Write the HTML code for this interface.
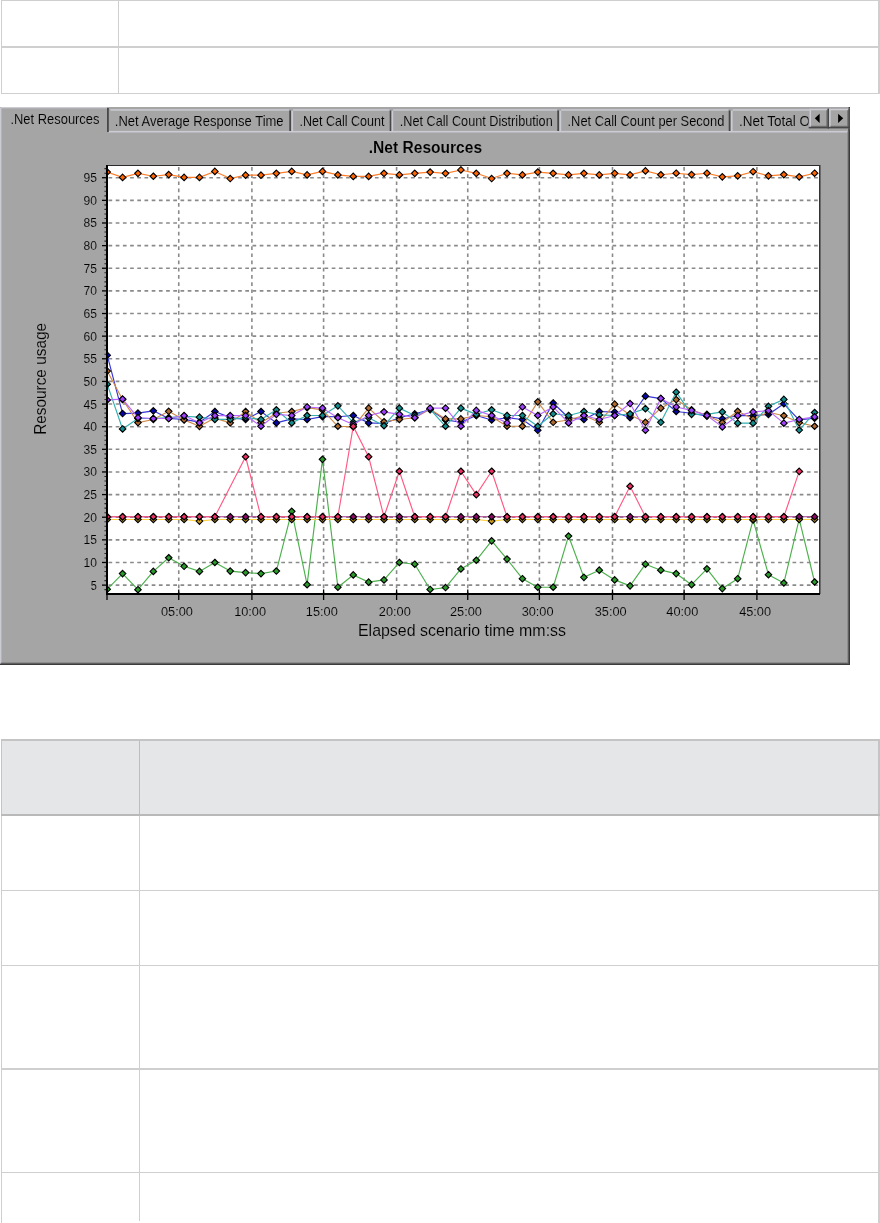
<!DOCTYPE html>
<html><head><meta charset="utf-8"><title>.Net Resources</title>
<style>
html,body{margin:0;padding:0;background:#fff;width:880px;height:1223px;overflow:hidden;position:relative;font-family:"Liberation Sans",Arial,sans-serif}
.b{position:absolute;background:#cfcfcf}
#chart{position:absolute;left:0;top:107px;will-change:transform}
#chart text{font-family:"Liberation Sans",Arial,sans-serif;fill:#000;stroke:#a5a5a5;stroke-width:0.15px}
.g{stroke:#8a8a8a;stroke-width:1.6;stroke-dasharray:3.7 3.5}
.tk{stroke:#000;stroke-width:1.1}
</style></head><body>
<div class="b" style="left:1px;top:0;width:878px;height:1px"></div>
<div class="b" style="left:1px;top:46px;width:878px;height:2px"></div>
<div class="b" style="left:1px;top:93px;width:878px;height:1px"></div>
<div class="b" style="left:1px;top:0;width:1px;height:94px"></div>
<div class="b" style="left:118px;top:0;width:1px;height:94px"></div>
<div class="b" style="left:878px;top:0;width:2px;height:94px"></div>

<svg id="chart" width="850" height="558" viewBox="0 107 850 558">
<clipPath id="t6"><rect x="731" y="108" width="77.5" height="24"/></clipPath>
<rect x="0" y="107" width="850" height="558" fill="#a5a5a5"/>
<rect x="0" y="107.5" width="1.4" height="557" fill="#cbcbd4"/>
<rect x="108.5" y="130.9" width="740" height="1.6" fill="#cbcbd4"/>
<rect x="1" y="662.6" width="848" height="1.2" fill="#6b6b6b"/>
<rect x="0" y="663.6" width="850" height="1.4" fill="#3c3c3c"/>
<rect x="847.6" y="131" width="1.2" height="533" fill="#6b6b6b"/>
<rect x="848.6" y="107" width="1.4" height="558" fill="#3c3c3c"/>
<rect x="1" y="107" width="106" height="1.3" fill="#cbcbd4"/>
<rect x="107" y="108" width="1.8" height="24" fill="#474747"/>
<text x="10.45" y="123.8" font-size="14.8" textLength="89.05" lengthAdjust="spacingAndGlyphs">.Net Resources</text>
<rect x="110.4" y="109.2" width="178.7" height="1.5" fill="#cbcbd4"/>
<rect x="289.3" y="110.5" width="1.7" height="20.5" fill="#474747"/>
<g><text x="114.8" y="126.3" font-size="14.8" textLength="168.8" lengthAdjust="spacingAndGlyphs">.Net Average Response Time</text></g>
<rect x="293.1" y="109.2" width="96.4" height="1.5" fill="#cbcbd4"/>
<rect x="291.5" y="110.7" width="1.6" height="20.5" fill="#cbcbd4"/>
<rect x="389.7" y="110.5" width="1.7" height="20.5" fill="#474747"/>
<g><text x="299.4" y="126.3" font-size="14.8" textLength="85.1" lengthAdjust="spacingAndGlyphs">.Net Call Count</text></g>
<rect x="393.2" y="109.2" width="163.9" height="1.5" fill="#cbcbd4"/>
<rect x="391.6" y="110.7" width="1.6" height="20.5" fill="#cbcbd4"/>
<rect x="557.3" y="110.5" width="1.7" height="20.5" fill="#474747"/>
<g><text x="399.8" y="126.3" font-size="14.8" textLength="152.89" lengthAdjust="spacingAndGlyphs">.Net Call Count Distribution</text></g>
<rect x="561.2" y="109.2" width="167.3" height="1.5" fill="#cbcbd4"/>
<rect x="559.6" y="110.7" width="1.6" height="20.5" fill="#cbcbd4"/>
<rect x="728.7" y="110.5" width="1.7" height="20.5" fill="#474747"/>
<g><text x="567.5" y="126.3" font-size="14.8" textLength="156.81" lengthAdjust="spacingAndGlyphs">.Net Call Count per Second</text></g>
<rect x="732.6" y="109.2" width="115.5" height="1.5" fill="#cbcbd4"/>
<rect x="731" y="110.7" width="1.6" height="20.5" fill="#cbcbd4"/>
<rect x="848.3" y="110.5" width="1.7" height="20.5" fill="#474747"/>
<g clip-path="url(#t6)"><text x="739" y="126.3" font-size="14.8" textLength="163.12" lengthAdjust="spacingAndGlyphs">.Net Total Operational Time</text></g>
<rect x="809.5" y="108.6" width="19.5" height="19.8" fill="#a5a5a5"/>
<rect x="809.5" y="108.8" width="18.5" height="1.5" fill="#cbcbd4"/><rect x="809.5" y="108.8" width="1.5" height="18.5" fill="#cbcbd4"/>
<rect x="810.8" y="125.8" width="16.9" height="1" fill="#6b6b6b"/><rect x="826.4" y="110.2" width="1" height="16.6" fill="#6b6b6b"/>
<rect x="808.7" y="126.8" width="20.3" height="1.6" fill="#474747"/><rect x="827.4" y="108.6" width="1.6" height="19.8" fill="#474747"/>
<polygon points="814.8,118.3 819.6,113.7 819.6,122.9" fill="#000"/>
<rect x="829.2" y="108.6" width="20.7" height="19.8" fill="#a5a5a5"/>
<rect x="829.2" y="108.8" width="19.7" height="1.5" fill="#cbcbd4"/><rect x="829.2" y="108.8" width="1.5" height="18.5" fill="#cbcbd4"/>
<rect x="830.5" y="125.8" width="18.1" height="1" fill="#6b6b6b"/><rect x="847.3" y="110.2" width="1" height="16.6" fill="#6b6b6b"/>
<rect x="828.4" y="126.8" width="21.5" height="1.6" fill="#474747"/><rect x="848.3" y="108.6" width="1.6" height="19.8" fill="#474747"/>
<polygon points="843.2,118.3 838.1,113.7 838.1,122.9" fill="#000"/>
<text x="368.75" y="152.7" font-size="16.9" font-weight="bold" textLength="113.35" lengthAdjust="spacingAndGlyphs">.Net Resources</text>
<rect x="107" y="166" width="713" height="427" fill="#fff"/>
<line x1="108.5" y1="585.12" x2="819" y2="585.12" class="g"/>
<line x1="108.5" y1="562.48" x2="819" y2="562.48" class="g"/>
<line x1="108.5" y1="539.85" x2="819" y2="539.85" class="g"/>
<line x1="108.5" y1="517.22" x2="819" y2="517.22" class="g"/>
<line x1="108.5" y1="494.58" x2="819" y2="494.58" class="g"/>
<line x1="108.5" y1="471.95" x2="819" y2="471.95" class="g"/>
<line x1="108.5" y1="449.32" x2="819" y2="449.32" class="g"/>
<line x1="108.5" y1="426.69" x2="819" y2="426.69" class="g"/>
<line x1="108.5" y1="404.05" x2="819" y2="404.05" class="g"/>
<line x1="108.5" y1="381.42" x2="819" y2="381.42" class="g"/>
<line x1="108.5" y1="358.79" x2="819" y2="358.79" class="g"/>
<line x1="108.5" y1="336.15" x2="819" y2="336.15" class="g"/>
<line x1="108.5" y1="313.52" x2="819" y2="313.52" class="g"/>
<line x1="108.5" y1="290.89" x2="819" y2="290.89" class="g"/>
<line x1="108.5" y1="268.25" x2="819" y2="268.25" class="g"/>
<line x1="108.5" y1="245.62" x2="819" y2="245.62" class="g"/>
<line x1="108.5" y1="222.99" x2="819" y2="222.99" class="g"/>
<line x1="108.5" y1="200.36" x2="819" y2="200.36" class="g"/>
<line x1="108.5" y1="177.72" x2="819" y2="177.72" class="g"/>
<line x1="178.75" y1="167" x2="178.75" y2="593" class="g"/>
<line x1="251.9" y1="167" x2="251.9" y2="593" class="g"/>
<line x1="323.6" y1="167" x2="323.6" y2="593" class="g"/>
<line x1="396.6" y1="167" x2="396.6" y2="593" class="g"/>
<line x1="467.75" y1="167" x2="467.75" y2="593" class="g"/>
<line x1="539.4" y1="167" x2="539.4" y2="593" class="g"/>
<line x1="612.5" y1="167" x2="612.5" y2="593" class="g"/>
<line x1="684.1" y1="167" x2="684.1" y2="593" class="g"/>
<line x1="756.9" y1="167" x2="756.9" y2="593" class="g"/>
<clipPath id="pc"><rect x="108" y="166" width="711.5" height="427"/></clipPath><g id="series" clip-path="url(#pc)"><polyline points="107.2,589.33 122.58,573.62 137.96,589.69 153.33,571.4 168.71,557.78 184.09,566.29 199.47,571.4 214.85,562.53 230.22,571.08 245.6,572.62 260.98,573.57 276.36,571.04 291.74,511.33 307.11,584.66 322.49,459.32 337.87,587.2 353.25,574.93 368.63,582.13 384,579.91 399.38,562.48 414.76,564.2 430.14,589.46 445.52,587.56 460.89,568.96 476.27,560.27 491.65,540.85 507.03,559.09 522.41,578.69 537.78,587.24 553.16,587.24 568.54,536.05 583.92,577.33 599.3,570.18 614.67,579.91 630.05,585.84 645.43,564.2 660.81,570.18 676.19,573.57 691.56,584.66 706.94,568.82 722.32,588.6 737.7,578.69 753.08,519.93 768.45,574.71 783.83,583.03 799.21,519.03 814.59,581.99" fill="none" stroke="#4cb04c" stroke-width="1.15" stroke-linejoin="round"/>
<path d="M107.2 586.08l3.25 3.25-3.25 3.25-3.25-3.25zM122.58 570.37l3.25 3.25-3.25 3.25-3.25-3.25zM137.96 586.44l3.25 3.25-3.25 3.25-3.25-3.25zM153.33 568.15l3.25 3.25-3.25 3.25-3.25-3.25zM168.71 554.53l3.25 3.25-3.25 3.25-3.25-3.25zM184.09 563.04l3.25 3.25-3.25 3.25-3.25-3.25zM199.47 568.15l3.25 3.25-3.25 3.25-3.25-3.25zM214.85 559.28l3.25 3.25-3.25 3.25-3.25-3.25zM230.22 567.83l3.25 3.25-3.25 3.25-3.25-3.25zM245.6 569.37l3.25 3.25-3.25 3.25-3.25-3.25zM260.98 570.32l3.25 3.25-3.25 3.25-3.25-3.25zM276.36 567.79l3.25 3.25-3.25 3.25-3.25-3.25zM291.74 508.08l3.25 3.25-3.25 3.25-3.25-3.25zM307.11 581.41l3.25 3.25-3.25 3.25-3.25-3.25zM322.49 456.07l3.25 3.25-3.25 3.25-3.25-3.25zM337.87 583.95l3.25 3.25-3.25 3.25-3.25-3.25zM353.25 571.68l3.25 3.25-3.25 3.25-3.25-3.25zM368.63 578.88l3.25 3.25-3.25 3.25-3.25-3.25zM384 576.66l3.25 3.25-3.25 3.25-3.25-3.25zM399.38 559.23l3.25 3.25-3.25 3.25-3.25-3.25zM414.76 560.95l3.25 3.25-3.25 3.25-3.25-3.25zM430.14 586.21l3.25 3.25-3.25 3.25-3.25-3.25zM445.52 584.31l3.25 3.25-3.25 3.25-3.25-3.25zM460.89 565.71l3.25 3.25-3.25 3.25-3.25-3.25zM476.27 557.02l3.25 3.25-3.25 3.25-3.25-3.25zM491.65 537.6l3.25 3.25-3.25 3.25-3.25-3.25zM507.03 555.84l3.25 3.25-3.25 3.25-3.25-3.25zM522.41 575.44l3.25 3.25-3.25 3.25-3.25-3.25zM537.78 583.99l3.25 3.25-3.25 3.25-3.25-3.25zM553.16 583.99l3.25 3.25-3.25 3.25-3.25-3.25zM568.54 532.8l3.25 3.25-3.25 3.25-3.25-3.25zM583.92 574.08l3.25 3.25-3.25 3.25-3.25-3.25zM599.3 566.93l3.25 3.25-3.25 3.25-3.25-3.25zM614.67 576.66l3.25 3.25-3.25 3.25-3.25-3.25zM630.05 582.59l3.25 3.25-3.25 3.25-3.25-3.25zM645.43 560.95l3.25 3.25-3.25 3.25-3.25-3.25zM660.81 566.93l3.25 3.25-3.25 3.25-3.25-3.25zM676.19 570.32l3.25 3.25-3.25 3.25-3.25-3.25zM691.56 581.41l3.25 3.25-3.25 3.25-3.25-3.25zM706.94 565.57l3.25 3.25-3.25 3.25-3.25-3.25zM722.32 585.35l3.25 3.25-3.25 3.25-3.25-3.25zM737.7 575.44l3.25 3.25-3.25 3.25-3.25-3.25zM753.08 516.68l3.25 3.25-3.25 3.25-3.25-3.25zM768.45 571.46l3.25 3.25-3.25 3.25-3.25-3.25zM783.83 579.78l3.25 3.25-3.25 3.25-3.25-3.25zM799.21 515.78l3.25 3.25-3.25 3.25-3.25-3.25zM814.59 578.74l3.25 3.25-3.25 3.25-3.25-3.25z" fill="#2a9a2a" stroke="#000" stroke-width="1.15"/>
<polyline points="107.2,355.17 122.58,413.56 137.96,413.11 153.33,410.84 168.71,418.54 184.09,419.44 199.47,422.16 214.85,411.52 230.22,417.63 245.6,419.44 260.98,411.52 276.36,422.88 291.74,418.9 307.11,419.49 322.49,416.64 337.87,416.73 353.25,415.51 368.63,422.88 384,423.52 399.38,417.77 414.76,413.79 430.14,409.8 445.52,419.9 460.89,422.3 476.27,415.51 491.65,420.03 507.03,417.77 522.41,419.49 537.78,430.31 553.16,402.97 568.54,417.77 583.92,419.49 599.3,411.52 614.67,412.07 630.05,417.77 645.43,396.18 660.81,398.62 676.19,411.52 691.56,413.24 706.94,416.27 722.32,418.81 737.7,415.69 753.08,415.69 768.45,414.42 783.83,403.78 799.21,420.03 814.59,418.18" fill="none" stroke="#3434d8" stroke-width="1.15" stroke-linejoin="round"/>
<path d="M107.2 351.92l3.25 3.25-3.25 3.25-3.25-3.25zM122.58 410.31l3.25 3.25-3.25 3.25-3.25-3.25zM137.96 409.86l3.25 3.25-3.25 3.25-3.25-3.25zM153.33 407.59l3.25 3.25-3.25 3.25-3.25-3.25zM168.71 415.29l3.25 3.25-3.25 3.25-3.25-3.25zM184.09 416.19l3.25 3.25-3.25 3.25-3.25-3.25zM199.47 418.91l3.25 3.25-3.25 3.25-3.25-3.25zM214.85 408.27l3.25 3.25-3.25 3.25-3.25-3.25zM230.22 414.38l3.25 3.25-3.25 3.25-3.25-3.25zM245.6 416.19l3.25 3.25-3.25 3.25-3.25-3.25zM260.98 408.27l3.25 3.25-3.25 3.25-3.25-3.25zM276.36 419.63l3.25 3.25-3.25 3.25-3.25-3.25zM291.74 415.65l3.25 3.25-3.25 3.25-3.25-3.25zM307.11 416.24l3.25 3.25-3.25 3.25-3.25-3.25zM322.49 413.39l3.25 3.25-3.25 3.25-3.25-3.25zM337.87 413.48l3.25 3.25-3.25 3.25-3.25-3.25zM353.25 412.26l3.25 3.25-3.25 3.25-3.25-3.25zM368.63 419.63l3.25 3.25-3.25 3.25-3.25-3.25zM384 420.27l3.25 3.25-3.25 3.25-3.25-3.25zM399.38 414.52l3.25 3.25-3.25 3.25-3.25-3.25zM414.76 410.54l3.25 3.25-3.25 3.25-3.25-3.25zM430.14 406.55l3.25 3.25-3.25 3.25-3.25-3.25zM445.52 416.65l3.25 3.25-3.25 3.25-3.25-3.25zM460.89 419.05l3.25 3.25-3.25 3.25-3.25-3.25zM476.27 412.26l3.25 3.25-3.25 3.25-3.25-3.25zM491.65 416.78l3.25 3.25-3.25 3.25-3.25-3.25zM507.03 414.52l3.25 3.25-3.25 3.25-3.25-3.25zM522.41 416.24l3.25 3.25-3.25 3.25-3.25-3.25zM537.78 427.06l3.25 3.25-3.25 3.25-3.25-3.25zM553.16 399.72l3.25 3.25-3.25 3.25-3.25-3.25zM568.54 414.52l3.25 3.25-3.25 3.25-3.25-3.25zM583.92 416.24l3.25 3.25-3.25 3.25-3.25-3.25zM599.3 408.27l3.25 3.25-3.25 3.25-3.25-3.25zM614.67 408.82l3.25 3.25-3.25 3.25-3.25-3.25zM630.05 414.52l3.25 3.25-3.25 3.25-3.25-3.25zM645.43 392.93l3.25 3.25-3.25 3.25-3.25-3.25zM660.81 395.37l3.25 3.25-3.25 3.25-3.25-3.25zM676.19 408.27l3.25 3.25-3.25 3.25-3.25-3.25zM691.56 409.99l3.25 3.25-3.25 3.25-3.25-3.25zM706.94 413.02l3.25 3.25-3.25 3.25-3.25-3.25zM722.32 415.56l3.25 3.25-3.25 3.25-3.25-3.25zM737.7 412.44l3.25 3.25-3.25 3.25-3.25-3.25zM753.08 412.44l3.25 3.25-3.25 3.25-3.25-3.25zM768.45 411.17l3.25 3.25-3.25 3.25-3.25-3.25zM783.83 400.53l3.25 3.25-3.25 3.25-3.25-3.25zM799.21 416.78l3.25 3.25-3.25 3.25-3.25-3.25zM814.59 414.93l3.25 3.25-3.25 3.25-3.25-3.25z" fill="#0606a8" stroke="#000" stroke-width="1.15"/>
<polyline points="107.2,371.01 122.58,399.53 137.96,422.61 153.33,419.44 168.71,411.3 184.09,419.9 199.47,426.32 214.85,418.09 230.22,422.84 245.6,411.52 260.98,422.84 276.36,413.24 291.74,411.52 307.11,407.67 322.49,409.94 337.87,426.28 353.25,426.87 368.63,408.13 384,421.75 399.38,419.49 414.76,417.77 430.14,409.26 445.52,418.9 460.89,418.9 476.27,415.51 491.65,416.73 507.03,426.28 522.41,426.28 537.78,401.83 553.16,422.3 568.54,420.03 583.92,415.51 599.3,422.3 614.67,404.14 630.05,414.92 645.43,422.3 660.81,408.13 676.19,399.57 691.56,409.8 706.94,415.51 722.32,422.57 737.7,411.3 753.08,418.81 768.45,412.2 783.83,415.69 799.21,422.57 814.59,426.28" fill="none" stroke="#d08a48" stroke-width="1.15" stroke-linejoin="round"/>
<path d="M107.2 367.76l3.25 3.25-3.25 3.25-3.25-3.25zM122.58 396.28l3.25 3.25-3.25 3.25-3.25-3.25zM137.96 419.36l3.25 3.25-3.25 3.25-3.25-3.25zM153.33 416.19l3.25 3.25-3.25 3.25-3.25-3.25zM168.71 408.05l3.25 3.25-3.25 3.25-3.25-3.25zM184.09 416.65l3.25 3.25-3.25 3.25-3.25-3.25zM199.47 423.07l3.25 3.25-3.25 3.25-3.25-3.25zM214.85 414.84l3.25 3.25-3.25 3.25-3.25-3.25zM230.22 419.59l3.25 3.25-3.25 3.25-3.25-3.25zM245.6 408.27l3.25 3.25-3.25 3.25-3.25-3.25zM260.98 419.59l3.25 3.25-3.25 3.25-3.25-3.25zM276.36 409.99l3.25 3.25-3.25 3.25-3.25-3.25zM291.74 408.27l3.25 3.25-3.25 3.25-3.25-3.25zM307.11 404.42l3.25 3.25-3.25 3.25-3.25-3.25zM322.49 406.69l3.25 3.25-3.25 3.25-3.25-3.25zM337.87 423.03l3.25 3.25-3.25 3.25-3.25-3.25zM353.25 423.62l3.25 3.25-3.25 3.25-3.25-3.25zM368.63 404.88l3.25 3.25-3.25 3.25-3.25-3.25zM384 418.5l3.25 3.25-3.25 3.25-3.25-3.25zM399.38 416.24l3.25 3.25-3.25 3.25-3.25-3.25zM414.76 414.52l3.25 3.25-3.25 3.25-3.25-3.25zM430.14 406.01l3.25 3.25-3.25 3.25-3.25-3.25zM445.52 415.65l3.25 3.25-3.25 3.25-3.25-3.25zM460.89 415.65l3.25 3.25-3.25 3.25-3.25-3.25zM476.27 412.26l3.25 3.25-3.25 3.25-3.25-3.25zM491.65 413.48l3.25 3.25-3.25 3.25-3.25-3.25zM507.03 423.03l3.25 3.25-3.25 3.25-3.25-3.25zM522.41 423.03l3.25 3.25-3.25 3.25-3.25-3.25zM537.78 398.58l3.25 3.25-3.25 3.25-3.25-3.25zM553.16 419.05l3.25 3.25-3.25 3.25-3.25-3.25zM568.54 416.78l3.25 3.25-3.25 3.25-3.25-3.25zM583.92 412.26l3.25 3.25-3.25 3.25-3.25-3.25zM599.3 419.05l3.25 3.25-3.25 3.25-3.25-3.25zM614.67 400.89l3.25 3.25-3.25 3.25-3.25-3.25zM630.05 411.67l3.25 3.25-3.25 3.25-3.25-3.25zM645.43 419.05l3.25 3.25-3.25 3.25-3.25-3.25zM660.81 404.88l3.25 3.25-3.25 3.25-3.25-3.25zM676.19 396.32l3.25 3.25-3.25 3.25-3.25-3.25zM691.56 406.55l3.25 3.25-3.25 3.25-3.25-3.25zM706.94 412.26l3.25 3.25-3.25 3.25-3.25-3.25zM722.32 419.32l3.25 3.25-3.25 3.25-3.25-3.25zM737.7 408.05l3.25 3.25-3.25 3.25-3.25-3.25zM753.08 415.56l3.25 3.25-3.25 3.25-3.25-3.25zM768.45 408.95l3.25 3.25-3.25 3.25-3.25-3.25zM783.83 412.44l3.25 3.25-3.25 3.25-3.25-3.25zM799.21 419.32l3.25 3.25-3.25 3.25-3.25-3.25zM814.59 423.03l3.25 3.25-3.25 3.25-3.25-3.25z" fill="#b06a30" stroke="#000" stroke-width="1.15"/>
<polyline points="107.2,384.14 122.58,428.95 137.96,418.54 153.33,418.54 168.71,417.63 184.09,416.27 199.47,417.18 214.85,419.44 230.22,419.44 245.6,417.63 260.98,419.44 276.36,409.8 291.74,422.88 307.11,415.51 322.49,415.51 337.87,405.86 353.25,422.3 368.63,417.77 384,425.74 399.38,408.13 414.76,415.51 430.14,409.26 445.52,426.28 460.89,408.13 476.27,414.37 491.65,409.8 507.03,415.51 522.41,415.51 537.78,426.28 553.16,413.79 568.54,415.51 583.92,411.52 599.3,414.92 614.67,415.51 630.05,413.79 645.43,408.67 660.81,422.3 676.19,392.19 691.56,414.37 706.94,414.37 722.32,411.93 737.7,423.16 753.08,423.16 768.45,406.32 783.83,399.39 799.21,430.04 814.59,412.52" fill="none" stroke="#34b0b0" stroke-width="1.15" stroke-linejoin="round"/>
<path d="M107.2 380.89l3.25 3.25-3.25 3.25-3.25-3.25zM122.58 425.7l3.25 3.25-3.25 3.25-3.25-3.25zM137.96 415.29l3.25 3.25-3.25 3.25-3.25-3.25zM153.33 415.29l3.25 3.25-3.25 3.25-3.25-3.25zM168.71 414.38l3.25 3.25-3.25 3.25-3.25-3.25zM184.09 413.02l3.25 3.25-3.25 3.25-3.25-3.25zM199.47 413.93l3.25 3.25-3.25 3.25-3.25-3.25zM214.85 416.19l3.25 3.25-3.25 3.25-3.25-3.25zM230.22 416.19l3.25 3.25-3.25 3.25-3.25-3.25zM245.6 414.38l3.25 3.25-3.25 3.25-3.25-3.25zM260.98 416.19l3.25 3.25-3.25 3.25-3.25-3.25zM276.36 406.55l3.25 3.25-3.25 3.25-3.25-3.25zM291.74 419.63l3.25 3.25-3.25 3.25-3.25-3.25zM307.11 412.26l3.25 3.25-3.25 3.25-3.25-3.25zM322.49 412.26l3.25 3.25-3.25 3.25-3.25-3.25zM337.87 402.61l3.25 3.25-3.25 3.25-3.25-3.25zM353.25 419.05l3.25 3.25-3.25 3.25-3.25-3.25zM368.63 414.52l3.25 3.25-3.25 3.25-3.25-3.25zM384 422.49l3.25 3.25-3.25 3.25-3.25-3.25zM399.38 404.88l3.25 3.25-3.25 3.25-3.25-3.25zM414.76 412.26l3.25 3.25-3.25 3.25-3.25-3.25zM430.14 406.01l3.25 3.25-3.25 3.25-3.25-3.25zM445.52 423.03l3.25 3.25-3.25 3.25-3.25-3.25zM460.89 404.88l3.25 3.25-3.25 3.25-3.25-3.25zM476.27 411.12l3.25 3.25-3.25 3.25-3.25-3.25zM491.65 406.55l3.25 3.25-3.25 3.25-3.25-3.25zM507.03 412.26l3.25 3.25-3.25 3.25-3.25-3.25zM522.41 412.26l3.25 3.25-3.25 3.25-3.25-3.25zM537.78 423.03l3.25 3.25-3.25 3.25-3.25-3.25zM553.16 410.54l3.25 3.25-3.25 3.25-3.25-3.25zM568.54 412.26l3.25 3.25-3.25 3.25-3.25-3.25zM583.92 408.27l3.25 3.25-3.25 3.25-3.25-3.25zM599.3 411.67l3.25 3.25-3.25 3.25-3.25-3.25zM614.67 412.26l3.25 3.25-3.25 3.25-3.25-3.25zM630.05 410.54l3.25 3.25-3.25 3.25-3.25-3.25zM645.43 405.42l3.25 3.25-3.25 3.25-3.25-3.25zM660.81 419.05l3.25 3.25-3.25 3.25-3.25-3.25zM676.19 388.94l3.25 3.25-3.25 3.25-3.25-3.25zM691.56 411.12l3.25 3.25-3.25 3.25-3.25-3.25zM706.94 411.12l3.25 3.25-3.25 3.25-3.25-3.25zM722.32 408.68l3.25 3.25-3.25 3.25-3.25-3.25zM737.7 419.91l3.25 3.25-3.25 3.25-3.25-3.25zM753.08 419.91l3.25 3.25-3.25 3.25-3.25-3.25zM768.45 403.07l3.25 3.25-3.25 3.25-3.25-3.25zM783.83 396.14l3.25 3.25-3.25 3.25-3.25-3.25zM799.21 426.79l3.25 3.25-3.25 3.25-3.25-3.25zM814.59 409.27l3.25 3.25-3.25 3.25-3.25-3.25z" fill="#128c8c" stroke="#000" stroke-width="1.15"/>
<polyline points="107.2,399.98 122.58,399.07 137.96,417.63 153.33,418.54 168.71,418.54 184.09,415.55 199.47,422.84 214.85,415.55 230.22,415.55 245.6,415.55 260.98,426.23 276.36,414.37 291.74,415.51 307.11,406.95 322.49,408.13 337.87,417.77 353.25,424.42 368.63,415.51 384,411.84 399.38,414.37 414.76,417.77 430.14,408.13 445.52,408.13 460.89,426.28 476.27,410.39 491.65,415.51 507.03,422.88 522.41,406.95 537.78,415.51 553.16,406.95 568.54,422.88 583.92,415.51 599.3,419.49 614.67,415.51 630.05,403.56 645.43,430.26 660.81,398.44 676.19,406.95 691.56,410.39 706.94,415.51 722.32,426.91 737.7,415.69 753.08,411.93 768.45,410.66 783.83,423.16 799.21,419.44 814.59,416.91" fill="none" stroke="#b866ff" stroke-width="1.15" stroke-linejoin="round"/>
<path d="M107.2 396.73l3.25 3.25-3.25 3.25-3.25-3.25zM122.58 395.82l3.25 3.25-3.25 3.25-3.25-3.25zM137.96 414.38l3.25 3.25-3.25 3.25-3.25-3.25zM153.33 415.29l3.25 3.25-3.25 3.25-3.25-3.25zM168.71 415.29l3.25 3.25-3.25 3.25-3.25-3.25zM184.09 412.3l3.25 3.25-3.25 3.25-3.25-3.25zM199.47 419.59l3.25 3.25-3.25 3.25-3.25-3.25zM214.85 412.3l3.25 3.25-3.25 3.25-3.25-3.25zM230.22 412.3l3.25 3.25-3.25 3.25-3.25-3.25zM245.6 412.3l3.25 3.25-3.25 3.25-3.25-3.25zM260.98 422.98l3.25 3.25-3.25 3.25-3.25-3.25zM276.36 411.12l3.25 3.25-3.25 3.25-3.25-3.25zM291.74 412.26l3.25 3.25-3.25 3.25-3.25-3.25zM307.11 403.7l3.25 3.25-3.25 3.25-3.25-3.25zM322.49 404.88l3.25 3.25-3.25 3.25-3.25-3.25zM337.87 414.52l3.25 3.25-3.25 3.25-3.25-3.25zM353.25 421.17l3.25 3.25-3.25 3.25-3.25-3.25zM368.63 412.26l3.25 3.25-3.25 3.25-3.25-3.25zM384 408.59l3.25 3.25-3.25 3.25-3.25-3.25zM399.38 411.12l3.25 3.25-3.25 3.25-3.25-3.25zM414.76 414.52l3.25 3.25-3.25 3.25-3.25-3.25zM430.14 404.88l3.25 3.25-3.25 3.25-3.25-3.25zM445.52 404.88l3.25 3.25-3.25 3.25-3.25-3.25zM460.89 423.03l3.25 3.25-3.25 3.25-3.25-3.25zM476.27 407.14l3.25 3.25-3.25 3.25-3.25-3.25zM491.65 412.26l3.25 3.25-3.25 3.25-3.25-3.25zM507.03 419.63l3.25 3.25-3.25 3.25-3.25-3.25zM522.41 403.7l3.25 3.25-3.25 3.25-3.25-3.25zM537.78 412.26l3.25 3.25-3.25 3.25-3.25-3.25zM553.16 403.7l3.25 3.25-3.25 3.25-3.25-3.25zM568.54 419.63l3.25 3.25-3.25 3.25-3.25-3.25zM583.92 412.26l3.25 3.25-3.25 3.25-3.25-3.25zM599.3 416.24l3.25 3.25-3.25 3.25-3.25-3.25zM614.67 412.26l3.25 3.25-3.25 3.25-3.25-3.25zM630.05 400.31l3.25 3.25-3.25 3.25-3.25-3.25zM645.43 427.01l3.25 3.25-3.25 3.25-3.25-3.25zM660.81 395.19l3.25 3.25-3.25 3.25-3.25-3.25zM676.19 403.7l3.25 3.25-3.25 3.25-3.25-3.25zM691.56 407.14l3.25 3.25-3.25 3.25-3.25-3.25zM706.94 412.26l3.25 3.25-3.25 3.25-3.25-3.25zM722.32 423.66l3.25 3.25-3.25 3.25-3.25-3.25zM737.7 412.44l3.25 3.25-3.25 3.25-3.25-3.25zM753.08 408.68l3.25 3.25-3.25 3.25-3.25-3.25zM768.45 407.41l3.25 3.25-3.25 3.25-3.25-3.25zM783.83 419.91l3.25 3.25-3.25 3.25-3.25-3.25zM799.21 416.19l3.25 3.25-3.25 3.25-3.25-3.25zM814.59 413.66l3.25 3.25-3.25 3.25-3.25-3.25z" fill="#a040ff" stroke="#000" stroke-width="1.15"/>
<polyline points="107.2,519.48 122.58,519.48 137.96,519.48 153.33,519.48 168.71,519.48 184.09,519.48 199.47,521.11 214.85,519.48 230.22,519.48 245.6,519.48 260.98,519.48 276.36,519.48 291.74,519.48 307.11,519.48 322.49,519.48 337.87,519.48 353.25,519.48 368.63,519.48 384,519.48 399.38,519.48 414.76,519.48 430.14,519.48 445.52,519.48 460.89,519.48 476.27,519.48 491.65,521.07 507.03,519.48 522.41,519.48 537.78,519.48 553.16,519.48 568.54,519.48 583.92,519.48 599.3,519.48 614.67,519.48 630.05,519.48 645.43,519.48 660.81,519.48 676.19,519.48 691.56,519.48 706.94,519.48 722.32,519.48 737.7,519.48 753.08,519.48 768.45,519.48 783.83,519.48 799.21,519.48 814.59,519.48" fill="none" stroke="#ffd040" stroke-width="1.15" stroke-linejoin="round"/>
<path d="M107.2 516.23l3.25 3.25-3.25 3.25-3.25-3.25zM122.58 516.23l3.25 3.25-3.25 3.25-3.25-3.25zM137.96 516.23l3.25 3.25-3.25 3.25-3.25-3.25zM153.33 516.23l3.25 3.25-3.25 3.25-3.25-3.25zM168.71 516.23l3.25 3.25-3.25 3.25-3.25-3.25zM184.09 516.23l3.25 3.25-3.25 3.25-3.25-3.25zM199.47 517.86l3.25 3.25-3.25 3.25-3.25-3.25zM214.85 516.23l3.25 3.25-3.25 3.25-3.25-3.25zM230.22 516.23l3.25 3.25-3.25 3.25-3.25-3.25zM245.6 516.23l3.25 3.25-3.25 3.25-3.25-3.25zM260.98 516.23l3.25 3.25-3.25 3.25-3.25-3.25zM276.36 516.23l3.25 3.25-3.25 3.25-3.25-3.25zM291.74 516.23l3.25 3.25-3.25 3.25-3.25-3.25zM307.11 516.23l3.25 3.25-3.25 3.25-3.25-3.25zM322.49 516.23l3.25 3.25-3.25 3.25-3.25-3.25zM337.87 516.23l3.25 3.25-3.25 3.25-3.25-3.25zM353.25 516.23l3.25 3.25-3.25 3.25-3.25-3.25zM368.63 516.23l3.25 3.25-3.25 3.25-3.25-3.25zM384 516.23l3.25 3.25-3.25 3.25-3.25-3.25zM399.38 516.23l3.25 3.25-3.25 3.25-3.25-3.25zM414.76 516.23l3.25 3.25-3.25 3.25-3.25-3.25zM430.14 516.23l3.25 3.25-3.25 3.25-3.25-3.25zM445.52 516.23l3.25 3.25-3.25 3.25-3.25-3.25zM460.89 516.23l3.25 3.25-3.25 3.25-3.25-3.25zM476.27 516.23l3.25 3.25-3.25 3.25-3.25-3.25zM491.65 517.82l3.25 3.25-3.25 3.25-3.25-3.25zM507.03 516.23l3.25 3.25-3.25 3.25-3.25-3.25zM522.41 516.23l3.25 3.25-3.25 3.25-3.25-3.25zM537.78 516.23l3.25 3.25-3.25 3.25-3.25-3.25zM553.16 516.23l3.25 3.25-3.25 3.25-3.25-3.25zM568.54 516.23l3.25 3.25-3.25 3.25-3.25-3.25zM583.92 516.23l3.25 3.25-3.25 3.25-3.25-3.25zM599.3 516.23l3.25 3.25-3.25 3.25-3.25-3.25zM614.67 516.23l3.25 3.25-3.25 3.25-3.25-3.25zM630.05 516.23l3.25 3.25-3.25 3.25-3.25-3.25zM645.43 516.23l3.25 3.25-3.25 3.25-3.25-3.25zM660.81 516.23l3.25 3.25-3.25 3.25-3.25-3.25zM676.19 516.23l3.25 3.25-3.25 3.25-3.25-3.25zM691.56 516.23l3.25 3.25-3.25 3.25-3.25-3.25zM706.94 516.23l3.25 3.25-3.25 3.25-3.25-3.25zM722.32 516.23l3.25 3.25-3.25 3.25-3.25-3.25zM737.7 516.23l3.25 3.25-3.25 3.25-3.25-3.25zM753.08 516.23l3.25 3.25-3.25 3.25-3.25-3.25zM768.45 516.23l3.25 3.25-3.25 3.25-3.25-3.25zM783.83 516.23l3.25 3.25-3.25 3.25-3.25-3.25zM799.21 516.23l3.25 3.25-3.25 3.25-3.25-3.25zM814.59 516.23l3.25 3.25-3.25 3.25-3.25-3.25z" fill="#c89a18" stroke="#000" stroke-width="1.15"/>
<polyline points="107.2,516.77 122.58,516.77 137.96,516.77 153.33,516.77 168.71,516.77 184.09,516.77 199.47,516.77 214.85,516.77 230.22,516.77 245.6,516.77 260.98,516.77 276.36,516.77 291.74,516.77 307.11,516.77 322.49,516.77 337.87,516.77 353.25,516.77 368.63,516.77 384,516.77 399.38,516.77 414.76,516.77 430.14,516.77 445.52,516.77 460.89,516.77 476.27,516.77 491.65,516.77 507.03,516.77 522.41,516.77 537.78,516.77 553.16,516.77 568.54,516.77 583.92,516.77 599.3,516.77 614.67,516.77 630.05,516.77 645.43,516.77 660.81,516.77 676.19,516.77 691.56,516.77 706.94,516.77 722.32,516.77 737.7,516.77 753.08,516.77 768.45,516.77 783.83,516.77 799.21,516.77 814.59,516.77" fill="none" stroke="#a8388c" stroke-width="1.15" stroke-linejoin="round"/>
<path d="M107.2 513.52l3.25 3.25-3.25 3.25-3.25-3.25zM122.58 513.52l3.25 3.25-3.25 3.25-3.25-3.25zM137.96 513.52l3.25 3.25-3.25 3.25-3.25-3.25zM153.33 513.52l3.25 3.25-3.25 3.25-3.25-3.25zM168.71 513.52l3.25 3.25-3.25 3.25-3.25-3.25zM184.09 513.52l3.25 3.25-3.25 3.25-3.25-3.25zM199.47 513.52l3.25 3.25-3.25 3.25-3.25-3.25zM214.85 513.52l3.25 3.25-3.25 3.25-3.25-3.25zM230.22 513.52l3.25 3.25-3.25 3.25-3.25-3.25zM245.6 513.52l3.25 3.25-3.25 3.25-3.25-3.25zM260.98 513.52l3.25 3.25-3.25 3.25-3.25-3.25zM276.36 513.52l3.25 3.25-3.25 3.25-3.25-3.25zM291.74 513.52l3.25 3.25-3.25 3.25-3.25-3.25zM307.11 513.52l3.25 3.25-3.25 3.25-3.25-3.25zM322.49 513.52l3.25 3.25-3.25 3.25-3.25-3.25zM337.87 513.52l3.25 3.25-3.25 3.25-3.25-3.25zM353.25 513.52l3.25 3.25-3.25 3.25-3.25-3.25zM368.63 513.52l3.25 3.25-3.25 3.25-3.25-3.25zM384 513.52l3.25 3.25-3.25 3.25-3.25-3.25zM399.38 513.52l3.25 3.25-3.25 3.25-3.25-3.25zM414.76 513.52l3.25 3.25-3.25 3.25-3.25-3.25zM430.14 513.52l3.25 3.25-3.25 3.25-3.25-3.25zM445.52 513.52l3.25 3.25-3.25 3.25-3.25-3.25zM460.89 513.52l3.25 3.25-3.25 3.25-3.25-3.25zM476.27 513.52l3.25 3.25-3.25 3.25-3.25-3.25zM491.65 513.52l3.25 3.25-3.25 3.25-3.25-3.25zM507.03 513.52l3.25 3.25-3.25 3.25-3.25-3.25zM522.41 513.52l3.25 3.25-3.25 3.25-3.25-3.25zM537.78 513.52l3.25 3.25-3.25 3.25-3.25-3.25zM553.16 513.52l3.25 3.25-3.25 3.25-3.25-3.25zM568.54 513.52l3.25 3.25-3.25 3.25-3.25-3.25zM583.92 513.52l3.25 3.25-3.25 3.25-3.25-3.25zM599.3 513.52l3.25 3.25-3.25 3.25-3.25-3.25zM614.67 513.52l3.25 3.25-3.25 3.25-3.25-3.25zM630.05 513.52l3.25 3.25-3.25 3.25-3.25-3.25zM645.43 513.52l3.25 3.25-3.25 3.25-3.25-3.25zM660.81 513.52l3.25 3.25-3.25 3.25-3.25-3.25zM676.19 513.52l3.25 3.25-3.25 3.25-3.25-3.25zM691.56 513.52l3.25 3.25-3.25 3.25-3.25-3.25zM706.94 513.52l3.25 3.25-3.25 3.25-3.25-3.25zM722.32 513.52l3.25 3.25-3.25 3.25-3.25-3.25zM737.7 513.52l3.25 3.25-3.25 3.25-3.25-3.25zM753.08 513.52l3.25 3.25-3.25 3.25-3.25-3.25zM768.45 513.52l3.25 3.25-3.25 3.25-3.25-3.25zM783.83 513.52l3.25 3.25-3.25 3.25-3.25-3.25zM799.21 513.52l3.25 3.25-3.25 3.25-3.25-3.25zM814.59 513.52l3.25 3.25-3.25 3.25-3.25-3.25z" fill="#8c0a64" stroke="#000" stroke-width="1.15"/>
<polyline points="107.2,516.77 122.58,516.77 137.96,516.77 153.33,516.77 168.71,516.77 184.09,516.77 199.47,516.77 214.85,516.77 245.6,456.74 260.98,516.77 276.36,516.77 291.74,516.77 307.11,516.77 322.49,516.77 337.87,516.77 353.25,426.37 368.63,456.74 384,516.77 399.38,471.23 414.76,516.77 430.14,516.77 445.52,516.77 460.89,471.23 476.27,494.63 491.65,471.23 507.03,516.77 522.41,516.77 537.78,516.77 553.16,516.77 568.54,516.77 583.92,516.77 599.3,516.77 614.67,516.77 630.05,486.26 645.43,516.77 660.81,516.77 676.19,516.77 691.56,516.77 706.94,516.77 722.32,516.77 737.7,516.77 753.08,516.77 768.45,516.77 783.83,516.77 799.21,471.36" fill="none" stroke="#ff5a84" stroke-width="1.15" stroke-linejoin="round"/>
<path d="M107.2 513.52l3.25 3.25-3.25 3.25-3.25-3.25zM122.58 513.52l3.25 3.25-3.25 3.25-3.25-3.25zM137.96 513.52l3.25 3.25-3.25 3.25-3.25-3.25zM153.33 513.52l3.25 3.25-3.25 3.25-3.25-3.25zM168.71 513.52l3.25 3.25-3.25 3.25-3.25-3.25zM184.09 513.52l3.25 3.25-3.25 3.25-3.25-3.25zM199.47 513.52l3.25 3.25-3.25 3.25-3.25-3.25zM214.85 513.52l3.25 3.25-3.25 3.25-3.25-3.25zM245.6 453.49l3.25 3.25-3.25 3.25-3.25-3.25zM260.98 513.52l3.25 3.25-3.25 3.25-3.25-3.25zM276.36 513.52l3.25 3.25-3.25 3.25-3.25-3.25zM291.74 513.52l3.25 3.25-3.25 3.25-3.25-3.25zM307.11 513.52l3.25 3.25-3.25 3.25-3.25-3.25zM322.49 513.52l3.25 3.25-3.25 3.25-3.25-3.25zM337.87 513.52l3.25 3.25-3.25 3.25-3.25-3.25zM353.25 423.12l3.25 3.25-3.25 3.25-3.25-3.25zM368.63 453.49l3.25 3.25-3.25 3.25-3.25-3.25zM384 513.52l3.25 3.25-3.25 3.25-3.25-3.25zM399.38 467.98l3.25 3.25-3.25 3.25-3.25-3.25zM414.76 513.52l3.25 3.25-3.25 3.25-3.25-3.25zM430.14 513.52l3.25 3.25-3.25 3.25-3.25-3.25zM445.52 513.52l3.25 3.25-3.25 3.25-3.25-3.25zM460.89 467.98l3.25 3.25-3.25 3.25-3.25-3.25zM476.27 491.38l3.25 3.25-3.25 3.25-3.25-3.25zM491.65 467.98l3.25 3.25-3.25 3.25-3.25-3.25zM507.03 513.52l3.25 3.25-3.25 3.25-3.25-3.25zM522.41 513.52l3.25 3.25-3.25 3.25-3.25-3.25zM537.78 513.52l3.25 3.25-3.25 3.25-3.25-3.25zM553.16 513.52l3.25 3.25-3.25 3.25-3.25-3.25zM568.54 513.52l3.25 3.25-3.25 3.25-3.25-3.25zM583.92 513.52l3.25 3.25-3.25 3.25-3.25-3.25zM599.3 513.52l3.25 3.25-3.25 3.25-3.25-3.25zM614.67 513.52l3.25 3.25-3.25 3.25-3.25-3.25zM630.05 483.01l3.25 3.25-3.25 3.25-3.25-3.25zM645.43 513.52l3.25 3.25-3.25 3.25-3.25-3.25zM660.81 513.52l3.25 3.25-3.25 3.25-3.25-3.25zM676.19 513.52l3.25 3.25-3.25 3.25-3.25-3.25zM691.56 513.52l3.25 3.25-3.25 3.25-3.25-3.25zM706.94 513.52l3.25 3.25-3.25 3.25-3.25-3.25zM722.32 513.52l3.25 3.25-3.25 3.25-3.25-3.25zM737.7 513.52l3.25 3.25-3.25 3.25-3.25-3.25zM753.08 513.52l3.25 3.25-3.25 3.25-3.25-3.25zM768.45 513.52l3.25 3.25-3.25 3.25-3.25-3.25zM783.83 513.52l3.25 3.25-3.25 3.25-3.25-3.25zM799.21 468.11l3.25 3.25-3.25 3.25-3.25-3.25z" fill="#ec3262" stroke="#000" stroke-width="1.15"/>
<polyline points="107.2,172.11 122.58,177.41 137.96,173.33 153.33,176.23 168.71,174.6 184.09,177.41 199.47,177.41 214.85,171.43 230.22,178.54 245.6,175.14 260.98,175.14 276.36,173.33 291.74,171.43 307.11,174.92 322.49,171.43 337.87,174.92 353.25,176.41 368.63,176.41 384,173.33 399.38,174.92 414.76,173.33 430.14,172.11 445.52,173.33 460.89,169.94 476.27,173.33 491.65,178.54 507.03,173.33 522.41,174.92 537.78,172.11 553.16,173.33 568.54,174.92 583.92,173.33 599.3,174.92 614.67,173.33 630.05,174.92 645.43,170.93 660.81,174.74 676.19,173.2 691.56,174.6 706.94,173.2 722.32,176.82 737.7,175.82 753.08,171.7 768.45,175.82 783.83,174.6 799.21,176.82 814.59,173.2" fill="none" stroke="#ff7e2a" stroke-width="1.15" stroke-linejoin="round"/>
<path d="M107.2 168.86l3.25 3.25-3.25 3.25-3.25-3.25zM122.58 174.16l3.25 3.25-3.25 3.25-3.25-3.25zM137.96 170.08l3.25 3.25-3.25 3.25-3.25-3.25zM153.33 172.98l3.25 3.25-3.25 3.25-3.25-3.25zM168.71 171.35l3.25 3.25-3.25 3.25-3.25-3.25zM184.09 174.16l3.25 3.25-3.25 3.25-3.25-3.25zM199.47 174.16l3.25 3.25-3.25 3.25-3.25-3.25zM214.85 168.18l3.25 3.25-3.25 3.25-3.25-3.25zM230.22 175.29l3.25 3.25-3.25 3.25-3.25-3.25zM245.6 171.89l3.25 3.25-3.25 3.25-3.25-3.25zM260.98 171.89l3.25 3.25-3.25 3.25-3.25-3.25zM276.36 170.08l3.25 3.25-3.25 3.25-3.25-3.25zM291.74 168.18l3.25 3.25-3.25 3.25-3.25-3.25zM307.11 171.67l3.25 3.25-3.25 3.25-3.25-3.25zM322.49 168.18l3.25 3.25-3.25 3.25-3.25-3.25zM337.87 171.67l3.25 3.25-3.25 3.25-3.25-3.25zM353.25 173.16l3.25 3.25-3.25 3.25-3.25-3.25zM368.63 173.16l3.25 3.25-3.25 3.25-3.25-3.25zM384 170.08l3.25 3.25-3.25 3.25-3.25-3.25zM399.38 171.67l3.25 3.25-3.25 3.25-3.25-3.25zM414.76 170.08l3.25 3.25-3.25 3.25-3.25-3.25zM430.14 168.86l3.25 3.25-3.25 3.25-3.25-3.25zM445.52 170.08l3.25 3.25-3.25 3.25-3.25-3.25zM460.89 166.69l3.25 3.25-3.25 3.25-3.25-3.25zM476.27 170.08l3.25 3.25-3.25 3.25-3.25-3.25zM491.65 175.29l3.25 3.25-3.25 3.25-3.25-3.25zM507.03 170.08l3.25 3.25-3.25 3.25-3.25-3.25zM522.41 171.67l3.25 3.25-3.25 3.25-3.25-3.25zM537.78 168.86l3.25 3.25-3.25 3.25-3.25-3.25zM553.16 170.08l3.25 3.25-3.25 3.25-3.25-3.25zM568.54 171.67l3.25 3.25-3.25 3.25-3.25-3.25zM583.92 170.08l3.25 3.25-3.25 3.25-3.25-3.25zM599.3 171.67l3.25 3.25-3.25 3.25-3.25-3.25zM614.67 170.08l3.25 3.25-3.25 3.25-3.25-3.25zM630.05 171.67l3.25 3.25-3.25 3.25-3.25-3.25zM645.43 167.68l3.25 3.25-3.25 3.25-3.25-3.25zM660.81 171.49l3.25 3.25-3.25 3.25-3.25-3.25zM676.19 169.95l3.25 3.25-3.25 3.25-3.25-3.25zM691.56 171.35l3.25 3.25-3.25 3.25-3.25-3.25zM706.94 169.95l3.25 3.25-3.25 3.25-3.25-3.25zM722.32 173.57l3.25 3.25-3.25 3.25-3.25-3.25zM737.7 172.57l3.25 3.25-3.25 3.25-3.25-3.25zM753.08 168.45l3.25 3.25-3.25 3.25-3.25-3.25zM768.45 172.57l3.25 3.25-3.25 3.25-3.25-3.25zM783.83 171.35l3.25 3.25-3.25 3.25-3.25-3.25zM799.21 173.57l3.25 3.25-3.25 3.25-3.25-3.25zM814.59 169.95l3.25 3.25-3.25 3.25-3.25-3.25z" fill="#ff6600" stroke="#000" stroke-width="1.15"/></g>
<rect x="107" y="165" width="713" height="1" fill="#2a2a2a"/>
<rect x="819" y="165" width="1.5" height="429" fill="#333"/>
<rect x="106" y="165" width="2" height="430" fill="#000"/>
<rect x="106" y="593" width="714" height="2" fill="#000"/>
<line x1="104.4" y1="589.64" x2="106" y2="589.64" class="tk" style="stroke:#2a2a2a"/>
<line x1="102" y1="585.12" x2="106" y2="585.12" class="tk" style="stroke-width:1.3px"/>
<text x="90.85" y="589.57" font-size="13.7" textLength="6.1" lengthAdjust="spacingAndGlyphs">5</text>
<line x1="104.4" y1="580.59" x2="106" y2="580.59" class="tk" style="stroke:#2a2a2a"/>
<line x1="104.4" y1="576.06" x2="106" y2="576.06" class="tk" style="stroke:#2a2a2a"/>
<line x1="104.4" y1="571.54" x2="106" y2="571.54" class="tk" style="stroke:#2a2a2a"/>
<line x1="104.4" y1="567.01" x2="106" y2="567.01" class="tk" style="stroke:#2a2a2a"/>
<line x1="102" y1="562.48" x2="106" y2="562.48" class="tk" style="stroke-width:1.3px"/>
<text x="83.5" y="566.93" font-size="13.7" textLength="13.45" lengthAdjust="spacingAndGlyphs">10</text>
<line x1="104.4" y1="557.96" x2="106" y2="557.96" class="tk" style="stroke:#2a2a2a"/>
<line x1="104.4" y1="553.43" x2="106" y2="553.43" class="tk" style="stroke:#2a2a2a"/>
<line x1="104.4" y1="548.9" x2="106" y2="548.9" class="tk" style="stroke:#2a2a2a"/>
<line x1="104.4" y1="544.38" x2="106" y2="544.38" class="tk" style="stroke:#2a2a2a"/>
<line x1="102" y1="539.85" x2="106" y2="539.85" class="tk" style="stroke-width:1.3px"/>
<text x="83.5" y="544.3" font-size="13.7" textLength="13.45" lengthAdjust="spacingAndGlyphs">15</text>
<line x1="104.4" y1="535.32" x2="106" y2="535.32" class="tk" style="stroke:#2a2a2a"/>
<line x1="104.4" y1="530.8" x2="106" y2="530.8" class="tk" style="stroke:#2a2a2a"/>
<line x1="104.4" y1="526.27" x2="106" y2="526.27" class="tk" style="stroke:#2a2a2a"/>
<line x1="104.4" y1="521.74" x2="106" y2="521.74" class="tk" style="stroke:#2a2a2a"/>
<line x1="102" y1="517.22" x2="106" y2="517.22" class="tk" style="stroke-width:1.3px"/>
<text x="83.5" y="521.67" font-size="13.7" textLength="13.45" lengthAdjust="spacingAndGlyphs">20</text>
<line x1="104.4" y1="512.69" x2="106" y2="512.69" class="tk" style="stroke:#2a2a2a"/>
<line x1="104.4" y1="508.16" x2="106" y2="508.16" class="tk" style="stroke:#2a2a2a"/>
<line x1="104.4" y1="503.64" x2="106" y2="503.64" class="tk" style="stroke:#2a2a2a"/>
<line x1="104.4" y1="499.11" x2="106" y2="499.11" class="tk" style="stroke:#2a2a2a"/>
<line x1="102" y1="494.58" x2="106" y2="494.58" class="tk" style="stroke-width:1.3px"/>
<text x="83.5" y="499.04" font-size="13.7" textLength="13.45" lengthAdjust="spacingAndGlyphs">25</text>
<line x1="104.4" y1="490.06" x2="106" y2="490.06" class="tk" style="stroke:#2a2a2a"/>
<line x1="104.4" y1="485.53" x2="106" y2="485.53" class="tk" style="stroke:#2a2a2a"/>
<line x1="104.4" y1="481.01" x2="106" y2="481.01" class="tk" style="stroke:#2a2a2a"/>
<line x1="104.4" y1="476.48" x2="106" y2="476.48" class="tk" style="stroke:#2a2a2a"/>
<line x1="102" y1="471.95" x2="106" y2="471.95" class="tk" style="stroke-width:1.3px"/>
<text x="83.5" y="476.4" font-size="13.7" textLength="13.45" lengthAdjust="spacingAndGlyphs">30</text>
<line x1="104.4" y1="467.43" x2="106" y2="467.43" class="tk" style="stroke:#2a2a2a"/>
<line x1="104.4" y1="462.9" x2="106" y2="462.9" class="tk" style="stroke:#2a2a2a"/>
<line x1="104.4" y1="458.37" x2="106" y2="458.37" class="tk" style="stroke:#2a2a2a"/>
<line x1="104.4" y1="453.85" x2="106" y2="453.85" class="tk" style="stroke:#2a2a2a"/>
<line x1="102" y1="449.32" x2="106" y2="449.32" class="tk" style="stroke-width:1.3px"/>
<text x="83.5" y="453.77" font-size="13.7" textLength="13.45" lengthAdjust="spacingAndGlyphs">35</text>
<line x1="104.4" y1="444.79" x2="106" y2="444.79" class="tk" style="stroke:#2a2a2a"/>
<line x1="104.4" y1="440.27" x2="106" y2="440.27" class="tk" style="stroke:#2a2a2a"/>
<line x1="104.4" y1="435.74" x2="106" y2="435.74" class="tk" style="stroke:#2a2a2a"/>
<line x1="104.4" y1="431.21" x2="106" y2="431.21" class="tk" style="stroke:#2a2a2a"/>
<line x1="102" y1="426.69" x2="106" y2="426.69" class="tk" style="stroke-width:1.3px"/>
<text x="83.5" y="431.14" font-size="13.7" textLength="13.45" lengthAdjust="spacingAndGlyphs">40</text>
<line x1="104.4" y1="422.16" x2="106" y2="422.16" class="tk" style="stroke:#2a2a2a"/>
<line x1="104.4" y1="417.63" x2="106" y2="417.63" class="tk" style="stroke:#2a2a2a"/>
<line x1="104.4" y1="413.11" x2="106" y2="413.11" class="tk" style="stroke:#2a2a2a"/>
<line x1="104.4" y1="408.58" x2="106" y2="408.58" class="tk" style="stroke:#2a2a2a"/>
<line x1="102" y1="404.05" x2="106" y2="404.05" class="tk" style="stroke-width:1.3px"/>
<text x="83.5" y="408.5" font-size="13.7" textLength="13.45" lengthAdjust="spacingAndGlyphs">45</text>
<line x1="104.4" y1="399.53" x2="106" y2="399.53" class="tk" style="stroke:#2a2a2a"/>
<line x1="104.4" y1="395" x2="106" y2="395" class="tk" style="stroke:#2a2a2a"/>
<line x1="104.4" y1="390.47" x2="106" y2="390.47" class="tk" style="stroke:#2a2a2a"/>
<line x1="104.4" y1="385.95" x2="106" y2="385.95" class="tk" style="stroke:#2a2a2a"/>
<line x1="102" y1="381.42" x2="106" y2="381.42" class="tk" style="stroke-width:1.3px"/>
<text x="83.5" y="385.87" font-size="13.7" textLength="13.45" lengthAdjust="spacingAndGlyphs">50</text>
<line x1="104.4" y1="376.89" x2="106" y2="376.89" class="tk" style="stroke:#2a2a2a"/>
<line x1="104.4" y1="372.37" x2="106" y2="372.37" class="tk" style="stroke:#2a2a2a"/>
<line x1="104.4" y1="367.84" x2="106" y2="367.84" class="tk" style="stroke:#2a2a2a"/>
<line x1="104.4" y1="363.31" x2="106" y2="363.31" class="tk" style="stroke:#2a2a2a"/>
<line x1="102" y1="358.79" x2="106" y2="358.79" class="tk" style="stroke-width:1.3px"/>
<text x="83.5" y="363.24" font-size="13.7" textLength="13.45" lengthAdjust="spacingAndGlyphs">55</text>
<line x1="104.4" y1="354.26" x2="106" y2="354.26" class="tk" style="stroke:#2a2a2a"/>
<line x1="104.4" y1="349.73" x2="106" y2="349.73" class="tk" style="stroke:#2a2a2a"/>
<line x1="104.4" y1="345.21" x2="106" y2="345.21" class="tk" style="stroke:#2a2a2a"/>
<line x1="104.4" y1="340.68" x2="106" y2="340.68" class="tk" style="stroke:#2a2a2a"/>
<line x1="102" y1="336.15" x2="106" y2="336.15" class="tk" style="stroke-width:1.3px"/>
<text x="83.5" y="340.6" font-size="13.7" textLength="13.45" lengthAdjust="spacingAndGlyphs">60</text>
<line x1="104.4" y1="331.63" x2="106" y2="331.63" class="tk" style="stroke:#2a2a2a"/>
<line x1="104.4" y1="327.1" x2="106" y2="327.1" class="tk" style="stroke:#2a2a2a"/>
<line x1="104.4" y1="322.57" x2="106" y2="322.57" class="tk" style="stroke:#2a2a2a"/>
<line x1="104.4" y1="318.05" x2="106" y2="318.05" class="tk" style="stroke:#2a2a2a"/>
<line x1="102" y1="313.52" x2="106" y2="313.52" class="tk" style="stroke-width:1.3px"/>
<text x="83.5" y="317.97" font-size="13.7" textLength="13.45" lengthAdjust="spacingAndGlyphs">65</text>
<line x1="104.4" y1="308.99" x2="106" y2="308.99" class="tk" style="stroke:#2a2a2a"/>
<line x1="104.4" y1="304.47" x2="106" y2="304.47" class="tk" style="stroke:#2a2a2a"/>
<line x1="104.4" y1="299.94" x2="106" y2="299.94" class="tk" style="stroke:#2a2a2a"/>
<line x1="104.4" y1="295.41" x2="106" y2="295.41" class="tk" style="stroke:#2a2a2a"/>
<line x1="102" y1="290.89" x2="106" y2="290.89" class="tk" style="stroke-width:1.3px"/>
<text x="83.5" y="295.34" font-size="13.7" textLength="13.45" lengthAdjust="spacingAndGlyphs">70</text>
<line x1="104.4" y1="286.36" x2="106" y2="286.36" class="tk" style="stroke:#2a2a2a"/>
<line x1="104.4" y1="281.83" x2="106" y2="281.83" class="tk" style="stroke:#2a2a2a"/>
<line x1="104.4" y1="277.31" x2="106" y2="277.31" class="tk" style="stroke:#2a2a2a"/>
<line x1="104.4" y1="272.78" x2="106" y2="272.78" class="tk" style="stroke:#2a2a2a"/>
<line x1="102" y1="268.25" x2="106" y2="268.25" class="tk" style="stroke-width:1.3px"/>
<text x="83.5" y="272.71" font-size="13.7" textLength="13.45" lengthAdjust="spacingAndGlyphs">75</text>
<line x1="104.4" y1="263.73" x2="106" y2="263.73" class="tk" style="stroke:#2a2a2a"/>
<line x1="104.4" y1="259.2" x2="106" y2="259.2" class="tk" style="stroke:#2a2a2a"/>
<line x1="104.4" y1="254.68" x2="106" y2="254.68" class="tk" style="stroke:#2a2a2a"/>
<line x1="104.4" y1="250.15" x2="106" y2="250.15" class="tk" style="stroke:#2a2a2a"/>
<line x1="102" y1="245.62" x2="106" y2="245.62" class="tk" style="stroke-width:1.3px"/>
<text x="83.5" y="250.07" font-size="13.7" textLength="13.45" lengthAdjust="spacingAndGlyphs">80</text>
<line x1="104.4" y1="241.1" x2="106" y2="241.1" class="tk" style="stroke:#2a2a2a"/>
<line x1="104.4" y1="236.57" x2="106" y2="236.57" class="tk" style="stroke:#2a2a2a"/>
<line x1="104.4" y1="232.04" x2="106" y2="232.04" class="tk" style="stroke:#2a2a2a"/>
<line x1="104.4" y1="227.52" x2="106" y2="227.52" class="tk" style="stroke:#2a2a2a"/>
<line x1="102" y1="222.99" x2="106" y2="222.99" class="tk" style="stroke-width:1.3px"/>
<text x="83.5" y="227.44" font-size="13.7" textLength="13.45" lengthAdjust="spacingAndGlyphs">85</text>
<line x1="104.4" y1="218.46" x2="106" y2="218.46" class="tk" style="stroke:#2a2a2a"/>
<line x1="104.4" y1="213.94" x2="106" y2="213.94" class="tk" style="stroke:#2a2a2a"/>
<line x1="104.4" y1="209.41" x2="106" y2="209.41" class="tk" style="stroke:#2a2a2a"/>
<line x1="104.4" y1="204.88" x2="106" y2="204.88" class="tk" style="stroke:#2a2a2a"/>
<line x1="102" y1="200.36" x2="106" y2="200.36" class="tk" style="stroke-width:1.3px"/>
<text x="83.5" y="204.81" font-size="13.7" textLength="13.45" lengthAdjust="spacingAndGlyphs">90</text>
<line x1="104.4" y1="195.83" x2="106" y2="195.83" class="tk" style="stroke:#2a2a2a"/>
<line x1="104.4" y1="191.3" x2="106" y2="191.3" class="tk" style="stroke:#2a2a2a"/>
<line x1="104.4" y1="186.78" x2="106" y2="186.78" class="tk" style="stroke:#2a2a2a"/>
<line x1="104.4" y1="182.25" x2="106" y2="182.25" class="tk" style="stroke:#2a2a2a"/>
<line x1="102" y1="177.72" x2="106" y2="177.72" class="tk" style="stroke-width:1.3px"/>
<text x="83.5" y="182.17" font-size="13.7" textLength="13.45" lengthAdjust="spacingAndGlyphs">95</text>
<line x1="104.4" y1="173.2" x2="106" y2="173.2" class="tk" style="stroke:#2a2a2a"/>
<line x1="104.4" y1="168.67" x2="106" y2="168.67" class="tk" style="stroke:#2a2a2a"/>
<line x1="107" y1="595" x2="107" y2="600" class="tk" style="stroke-width:1.3px"/>
<line x1="178.75" y1="589.4" x2="178.75" y2="600" class="tk" style="stroke-width:1.3px"/>
<text x="161" y="615.7" font-size="13.7" textLength="31.91" lengthAdjust="spacingAndGlyphs">05:00</text>
<line x1="251.9" y1="589.4" x2="251.9" y2="600" class="tk" style="stroke-width:1.3px"/>
<text x="234.15" y="615.7" font-size="13.7" textLength="31.91" lengthAdjust="spacingAndGlyphs">10:00</text>
<line x1="323.6" y1="589.4" x2="323.6" y2="600" class="tk" style="stroke-width:1.3px"/>
<text x="305.85" y="615.7" font-size="13.7" textLength="31.91" lengthAdjust="spacingAndGlyphs">15:00</text>
<line x1="396.6" y1="589.4" x2="396.6" y2="600" class="tk" style="stroke-width:1.3px"/>
<text x="378.85" y="615.7" font-size="13.7" textLength="31.91" lengthAdjust="spacingAndGlyphs">20:00</text>
<line x1="467.75" y1="589.4" x2="467.75" y2="600" class="tk" style="stroke-width:1.3px"/>
<text x="450" y="615.7" font-size="13.7" textLength="31.91" lengthAdjust="spacingAndGlyphs">25:00</text>
<line x1="539.4" y1="589.4" x2="539.4" y2="600" class="tk" style="stroke-width:1.3px"/>
<text x="521.65" y="615.7" font-size="13.7" textLength="31.91" lengthAdjust="spacingAndGlyphs">30:00</text>
<line x1="612.5" y1="589.4" x2="612.5" y2="600" class="tk" style="stroke-width:1.3px"/>
<text x="594.75" y="615.7" font-size="13.7" textLength="31.91" lengthAdjust="spacingAndGlyphs">35:00</text>
<line x1="684.1" y1="589.4" x2="684.1" y2="600" class="tk" style="stroke-width:1.3px"/>
<text x="666.35" y="615.7" font-size="13.7" textLength="31.91" lengthAdjust="spacingAndGlyphs">40:00</text>
<line x1="756.9" y1="589.4" x2="756.9" y2="600" class="tk" style="stroke-width:1.3px"/>
<text x="739.15" y="615.7" font-size="13.7" textLength="31.91" lengthAdjust="spacingAndGlyphs">45:00</text>
<text x="358" y="635.9" font-size="17" textLength="208" lengthAdjust="spacingAndGlyphs">Elapsed scenario time mm:ss</text>
<g transform="translate(45.95 0) rotate(-90)"><text x="-434.8" y="0" font-size="17" textLength="111.8" lengthAdjust="spacingAndGlyphs">Resource usage</text></g>
</svg>

<div style="position:absolute;left:1px;top:741px;width:878px;height:73px;background:#e4e6e7"></div>
<div class="b" style="left:1px;top:739px;width:879px;height:2px;background:#c4c4c4"></div>
<div class="b" style="left:1px;top:814px;width:879px;height:2px;background:#b9b9b9"></div>
<div class="b" style="left:139px;top:741px;width:1px;height:73px;background:#bdbdbd"></div>
<div class="b" style="left:1px;top:741px;width:1px;height:73px;background:#c4c4c4"></div>
<div class="b" style="left:878px;top:741px;width:2px;height:73px;background:#c4c4c4"></div>
<div class="b" style="left:1px;top:816px;width:1px;height:407px"></div>
<div class="b" style="left:139px;top:816px;width:1px;height:405px"></div>
<div class="b" style="left:878px;top:816px;width:2px;height:407px"></div>
<div class="b" style="left:1px;top:890px;width:879px;height:1px"></div>
<div class="b" style="left:1px;top:965px;width:879px;height:1px"></div>
<div class="b" style="left:1px;top:1068px;width:879px;height:2px"></div>
<div class="b" style="left:1px;top:1172px;width:879px;height:1px"></div>
</body></html>
